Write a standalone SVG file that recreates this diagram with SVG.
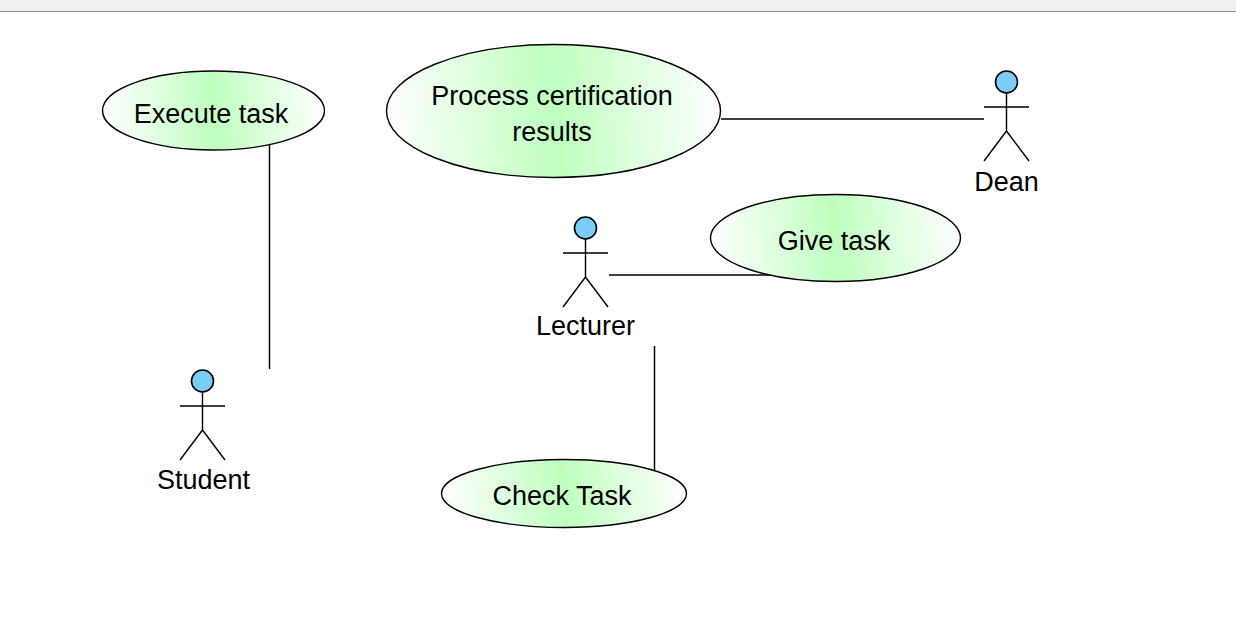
<svg xmlns="http://www.w3.org/2000/svg" width="1236" height="634" viewBox="0 0 1236 634">
<style>
.uc{stroke:#000;stroke-width:1.4}
.l{fill:#000;font-family:"Liberation Sans",Arial,sans-serif;font-size:27px;text-anchor:middle}
.c{stroke:#000;stroke-width:1.5;fill:none}
.a{stroke:#000;stroke-width:1.4;fill:none}
.h{fill:#7acdf4;stroke:#000;stroke-width:1.6}
</style>
<defs>
<linearGradient id="g" x1="0" y1="0.515" x2="1" y2="0.485">
<stop offset="0" stop-color="#fff"/><stop offset="0.5" stop-color="#bfffbf"/><stop offset="1" stop-color="#fff"/>
</linearGradient>
<g id="actor"><circle class="h" cx="0" cy="0" r="11"/><path class="a" d="M0 11V49M-22.500 25H22.500M-22.500 79L0 49L22.500 79"/></g>
</defs>
<rect id="topbar" x="0" y="0" width="1236" height="11" fill="#f0f0f0"/>
<path d="M0 11.500H1236" stroke="#8a8a96" stroke-width="1"/>
<g id="connectors">
<path class="c" d="M269.500 145V369"/>
<path class="c" d="M721 119H984"/>
<path class="c" d="M609 275H772"/>
<path class="c" d="M654.500 346V471"/>
</g>
<g id="execute-task"><ellipse class="uc" fill="url(#g)" cx="213.500" cy="110.500" rx="111" ry="39.500"/><text class="l" x="211" y="122.500">Execute task</text></g>
<g id="process-certification"><ellipse class="uc" fill="url(#g)" cx="553.500" cy="111" rx="167" ry="66.500"/><text class="l" x="552" y="104.500">Process certification</text><text class="l" x="552" y="140.500">results</text></g>
<g id="give-task"><ellipse class="uc" fill="url(#g)" cx="835.500" cy="238" rx="125" ry="43.500"/><text class="l" x="834" y="250">Give task</text></g>
<g id="check-task"><ellipse class="uc" fill="url(#g)" cx="564" cy="493.500" rx="122.500" ry="34"/><text class="l" x="562" y="505">Check Task</text></g>
<g id="dean"><use href="#actor" x="1006.500" y="82"/><text class="l" x="1006.500" y="190.500">Dean</text></g>
<g id="lecturer"><use href="#actor" x="585.500" y="228"/><text class="l" x="585.500" y="335">Lecturer</text></g>
<g id="student"><use href="#actor" x="202.500" y="381"/><text class="l" x="203.500" y="488.500">Student</text></g>
</svg>
